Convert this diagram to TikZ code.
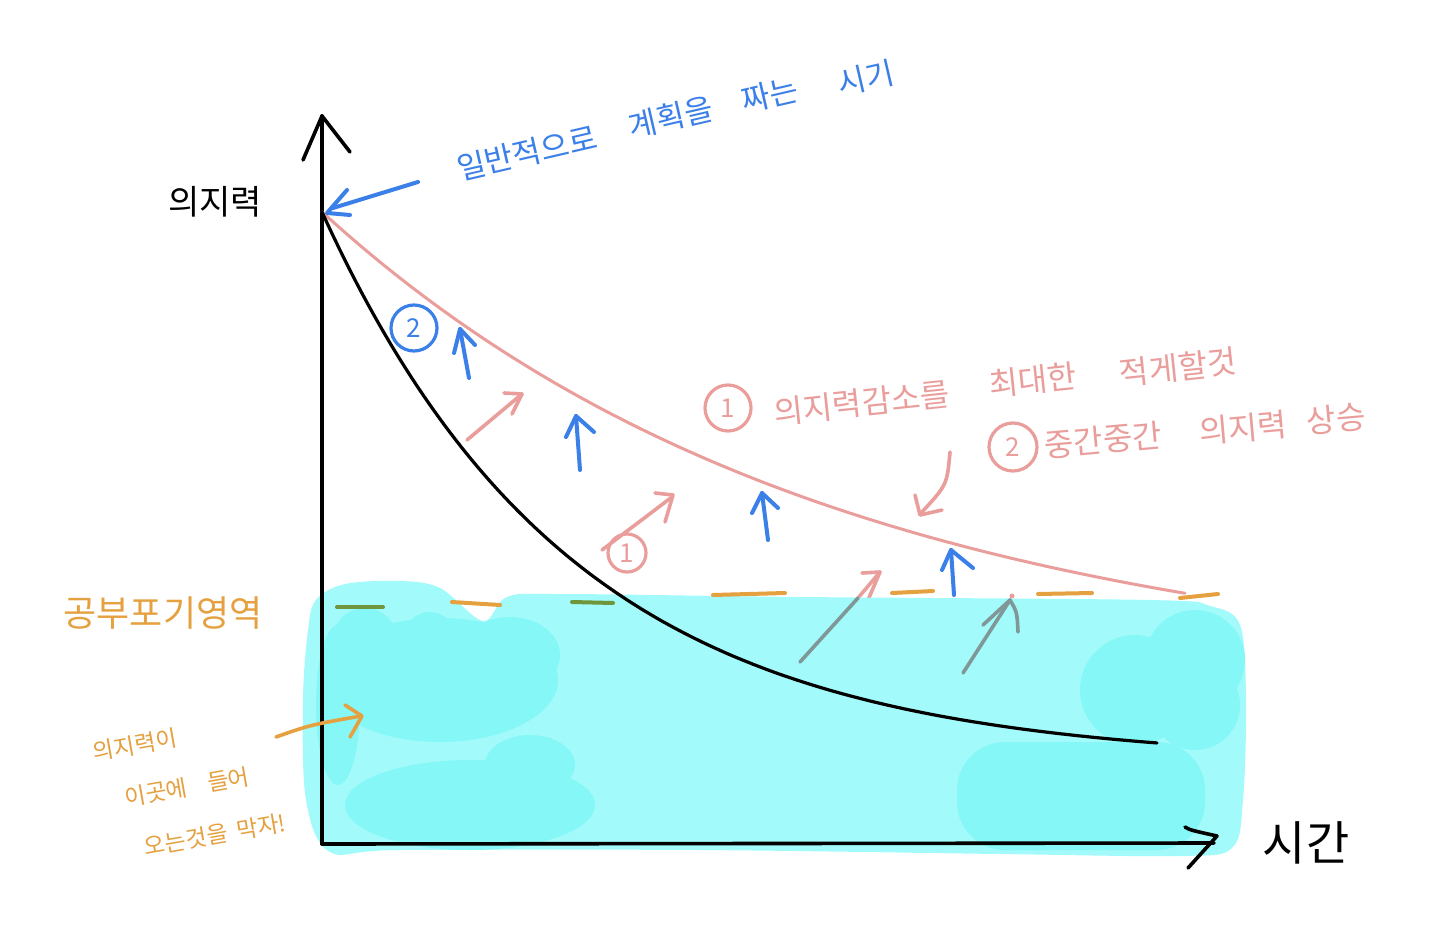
\documentclass[tikz,border=0pt]{standalone}
\usepackage{fontspec}
\newfontfamily\kr{Noto Sans CJK KR}
\newcommand\myfs[1]{\fontsize{#1}{#1}\selectfont}
\definecolor{bluec}{HTML}{3B7FE8}
\definecolor{pinkc}{HTML}{EA9E9C}
\definecolor{orangec}{HTML}{E5A040}
\definecolor{greenc}{HTML}{6E963C}
\definecolor{greyc}{HTML}{7F9797}
\definecolor{cyanbase}{HTML}{A2FAFA}
\definecolor{cyandark}{HTML}{86F7F7}
\tikzset{
  ink/.style={line cap=round, line join=round},
  axisline/.style={ink, line width=3.6pt, black},
  curveb/.style={ink, line width=3.2pt, black},
  curvep/.style={ink, line width=3pt, pinkc},
  bluearrow/.style={ink, line width=4pt, bluec},
  pinkarrow/.style={ink, line width=3.6pt, pinkc},
  greyarrow/.style={ink, line width=3.6pt, greyc},
  orangeseg/.style={ink, line width=4pt, orangec},
  greenseg/.style={ink, line width=4pt, greenc},
  lbl/.style={font=\kr, inner sep=0pt},
  bluew/.style={lbl, text=bluec, rotate=13, font=\kr\myfs{31}},
  pinkw/.style={lbl, text=pinkc, font=\kr\myfs{32}},
  smallo/.style={lbl, text=orangec, rotate=10, font=\kr\myfs{23}},
  numcircle/.style={circle, draw, line width=3.2pt, inner sep=0pt, font=\kr\myfs{26}}
}
\begin{document}
\begin{tikzpicture}[x=1pt,y=-1pt]
\useasboundingbox[fill=white] (0,0) rectangle (1447,952);

% --- pink arrows (parts above the cyan area)
\draw[pinkarrow] (858,598) -- (880,572);
\draw[pinkarrow] (862,573) -- (880,572) -- (868,600);
\fill[pinkc] (1012,596) circle[radius=2.5];

% --- cyan area
\fill[cyanbase] plot[smooth cycle, tension=0.55] coordinates {
  (316,600) (345,584) (400,581) (440,588) (483,621) (507,597) (560,594)
  (800,597) (1150,600) (1210,606) (1240,625) (1246,700) (1243,800)
  (1232,848) (1180,856) (1000,854) (700,850) (400,850) (330,852)
  (306,800) (303,700) (308,630)};
\fill[cyandark] (440,680) ellipse[x radius=118, y radius=62];
\fill[cyandark] (365,640) circle[radius=32];
\fill[cyandark] (430,638) circle[radius=26];
\fill[cyandark] (510,655) ellipse[x radius=50, y radius=38];
\fill[cyandark] (338,705) ellipse[x radius=22, y radius=80];
\fill[cyandark] (470,805) ellipse[x radius=125, y radius=45];
\fill[cyandark] (530,765) ellipse[x radius=45, y radius=30];
\fill[cyandark, rounded corners=48] (957,742) rectangle (1205,850);
\fill[cyandark] (1135,690) circle[radius=55];
\fill[cyandark] (1195,660) circle[radius=50];
\fill[cyandark] (1195,705) circle[radius=45];

% --- dashed threshold line
\draw[greenseg] (337,607) -- (383,607);
\draw[orangeseg] (452,602) -- (500,605);
\draw[greenseg] (572,602) -- (613,603);
\draw[orangeseg] (713,595) -- (785,593);
\draw[orangeseg] (892,593) -- (933,591);
\draw[orangeseg] (1038,594) -- (1092,593);
\draw[orangeseg] (1180,598) -- (1218,594);

% --- grey arrows (pink seen through the cyan)
\draw[greyarrow] (800,662) -- (858,598);
\draw[greyarrow] (963,673) -- (1010,600);
\draw[greyarrow] (983,625) -- (1010,600) .. controls (1017,612) .. (1018,632);

% --- axes
\coordinate (O) at (322,844);
\coordinate (ytop) at (322,116);
\coordinate (xend) at (1214,843);
\draw[axisline] (O) -- (ytop);
\draw[axisline] (303,160) -- (ytop) -- (350,152);
\draw[axisline] (O) -- (xend);
\draw[axisline] (1185,827) .. controls (1190,830) .. (1217,836) -- (1188,868);

% --- curves
\draw[curvep] plot[domain=322:1185, samples=120] (\x,{680-468*exp(-0.00196*(\x-322))});
\draw[curveb] plot[domain=322:1157, samples=150]
  (\x,{743-531*(exp(-0.004*(\x-322))-0.0354)/0.9646});

% --- blue arrows
\draw[bluearrow] (418,182) -- (333,208);
\draw[bluearrow] (347,190) -- (327,213) -- (350,215);
\draw[bluearrow] (469,378) -- (460,329);
\draw[bluearrow] (454,353) -- (460,329) -- (475,345);
\draw[bluearrow] (580,470) -- (576,416);
\draw[bluearrow] (566,437) -- (576,416) -- (594,432);
\draw[bluearrow] (768,540) -- (762,493);
\draw[bluearrow] (752,513) -- (762,493) -- (778,508);
\draw[bluearrow] (954,595) -- (951,550);
\draw[bluearrow] (942,570) -- (951,550) -- (973,568);

% --- pink arrows
\draw[pinkarrow] (467,440) -- (522,394);
\draw[pinkarrow] (504,393) -- (522,394) -- (512,414);
\draw[pinkarrow] (602,550) -- (672,497);
\draw[pinkarrow] (655,493) -- (673,495) -- (665,522);
\draw[pinkarrow] (950,452) .. controls (947,485) .. (921,513);
\draw[pinkarrow] (915,495) -- (920,515) -- (942,510);

% --- orange arrow
\draw[ink, line width=3.6pt, orangec] (276,737) .. controls (310,725) .. (361,716);
\draw[ink, line width=3.6pt, orangec] (345,705) -- (362,716) -- (350,737);

% --- circled numbers
\node[numcircle, bluec, minimum size=46pt] (c2b) at (414,328) {2};
\node[numcircle, pinkc, minimum size=38pt] (c1s) at (627,553) {1};
\node[numcircle, pinkc, minimum size=46pt] (c1) at (728,408) {1};
\node[numcircle, pinkc, minimum size=48pt] (c2) at (1013,447) {2};

% --- texts
\node[bluew] (plan1) at (527,153) {일반적으로};
\node[bluew] (plan2) at (671,117) {계획을};
\node[bluew] (plan3) at (770,95) {짜는};
\node[bluew] (plan4) at (866,78) {시기};
\node[lbl, text=black, font=\kr\myfs{34}] (will) at (215,202) {의지력};
\node[lbl, text=black, font=\kr\myfs{47}] (time) at (1306,843) {시간};
\node[lbl, text=orangec, font=\kr\myfs{36}] (giveup) at (163,613) {공부포기영역};
\node[smallo] (n1) at (135,745) {의지력이};
\node[smallo] (n2) at (187,787) {이곳에\hspace{0.9em}들어};
\node[smallo] (n3) at (215,835) {오는것을\hspace{0.4em}막자!};
\node[pinkw, rotate=6] (t1a) at (862,403) {의지력감소를};
\node[pinkw, rotate=6] (t1b) at (1033,380) {최대한};
\node[pinkw, rotate=6] (t1c) at (1178,367) {적게할것};
\node[pinkw, rotate=5] (t2a) at (1103,440) {중간중간};
\node[pinkw, rotate=5] (t2b) at (1243,428) {의지력};
\node[pinkw, rotate=5] (t2c) at (1336,419) {상승};
\end{tikzpicture}
\end{document}
